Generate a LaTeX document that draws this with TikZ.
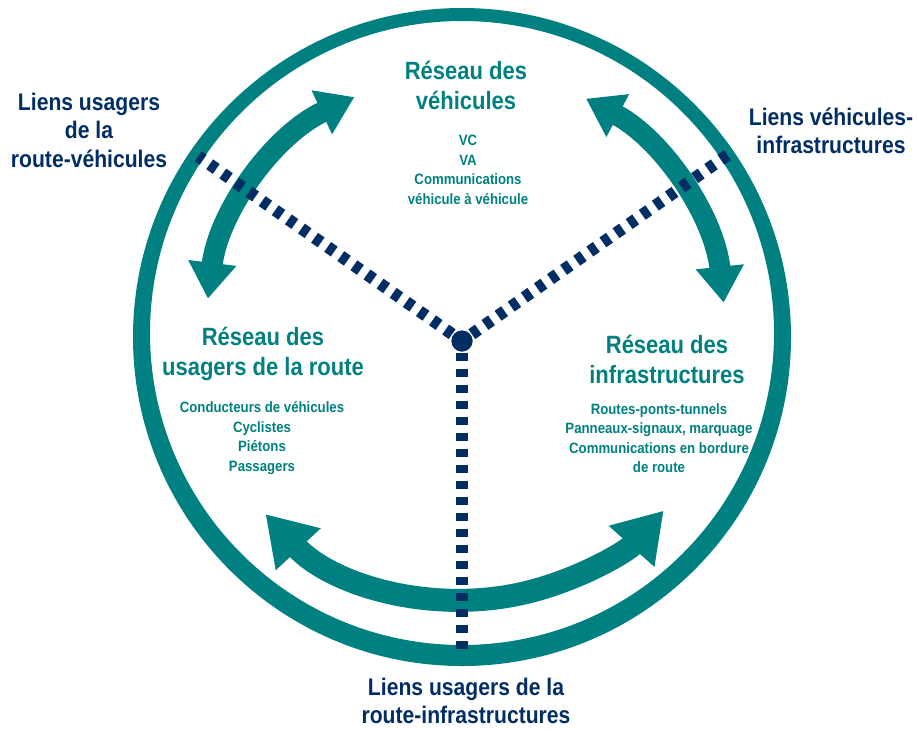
\documentclass[tikz,border=0pt]{standalone}
\usepackage{fontspec}
\setmainfont{Liberation Sans}[FakeStretch=0.88]
\usetikzlibrary{arrows.meta}
\definecolor{tealc}{RGB}{0,128,128}
\definecolor{navyc}{RGB}{0,45,100}
\begin{document}
\begin{tikzpicture}[x=1pt,y=-1pt,
  heading/.style={text=tealc, font=\fontsize{25}{30}\selectfont\bfseries, align=center, inner sep=0pt},
  items/.style={text=tealc, font=\fontsize{15}{19.5}\selectfont\bfseries, align=center, inner sep=0pt},
  linklabel/.style={text=navyc, font=\fontsize{24}{28.5}\selectfont\bfseries, align=center, inner sep=0pt},
  linkarrow/.style={draw=tealc, line width=21pt, {Triangle[width=46pt,length=36pt]}-{Triangle[width=46pt,length=36pt]}},
  bigarrow/.style={draw=tealc, line width=23pt, {Triangle[width=58pt,length=48pt]}-{Triangle[width=58pt,length=48pt]}},
  dotline/.style={draw=navyc, line width=12pt, dash pattern=on 8pt off 8pt, dash phase=4pt}]
\useasboundingbox (0,0) rectangle (917,729);
% ring
\fill[tealc, even odd rule] (462,337) circle[radius=329] (462,333) circle[radius=312];
% arrows
\coordinate (c0) at (463,330);
\coordinate (la) at ([shift={(-115:257)}]c0);
\coordinate (ra) at ([shift={(-62:262)}]c0);
\coordinate (ba) at ([shift={(-223:270)}]c0);
\draw[linkarrow] (la) arc[start angle=-115, end angle=-173, radius=257];
\draw[linkarrow] (ra) arc[start angle=-62, end angle=-6, radius=262];
\draw[bigarrow] (ba) arc[start angle=-223, end angle=-318, radius=270];
% dotted links
\node[circle, fill=navyc, minimum size=21pt, inner sep=0pt] (hub) at (462,341) {};
\coordinate (ul) at ([shift={(-145:322)}]hub.center);
\coordinate (ur) at ([shift={(-35:326)}]hub.center);
\coordinate (dn) at (462,655);
\draw[dotline] (hub.center) -- (ul);
\draw[dotline] (hub.center) -- (ur);
\draw[dotline] (hub.center) -- (dn);
\node[circle, fill=navyc, minimum size=21pt, inner sep=0pt] at (hub) {};
% texts
\node[heading] (vh) at (466,85) {Réseau des\\véhicules};
\node[items] (vi) at (468,170) {VC\\VA\\Communications\\véhicule à véhicule};
\node[heading] (uh) at (263,354) {Réseau des\\usagers de la route};
\node[items] (ui) at (262,438) {Conducteurs de véhicules\\Cyclistes\\Piétons\\Passagers};
\node[heading] (ih) at (667,359) {Réseau des\\infrastructures};
\node[items] (ii) at (659,438) {Routes-ponts-tunnels\\Panneaux-signaux, marquage\\Communications en bordure\\de route};
\node[linklabel] (l1) at (89,130) {Liens usagers\\de la\\route-véhicules};
\node[linklabel] (l2) at (831,131) {Liens véhicules-\\infrastructures};
\node[linklabel] (l3) at (466,701) {Liens usagers de la\\route-infrastructures};
\end{tikzpicture}
\end{document}
